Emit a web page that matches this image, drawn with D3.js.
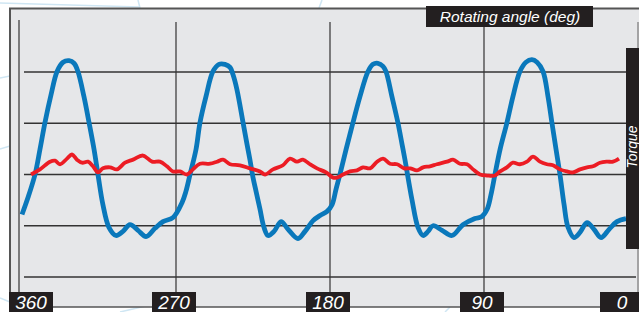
<!DOCTYPE html>
<html>
<head>
    <script src="https://d3js.org/d3.v7.min.js"></script>
</head>

<style>
body {
    margin: 0;
    background: #ffffff;
}
svg text {
    font-family: "Liberation Sans", Arial, sans-serif;
    font-style: italic;
}
</style>

<body>
<div id="chart"></div>

<script>
    // Rotating angle (deg) and torque (grid units)
    var blueAngle = [360, 356.5, 352.4, 349.5, 346.6, 343.0, 339.5, 336.0, 332.5, 329.6, 327.3, 323.8, 320.8, 317.9, 315.6,
        312.7, 309.2, 305.1, 301.0, 296.9, 292.2, 287.5, 282.3, 277.6, 271.7, 266.5, 264.2, 261.8, 258.3, 256.0, 252.5,
        248.4, 244.9, 241.4, 238.4, 236.7, 234.4, 230.8, 228.5, 226.8, 225.0, 223.2, 220.9, 218.6, 216.2, 212.7, 208.6,
        204.5, 198.7, 194.6, 189.9, 185.8, 181.7, 178.8, 176.5, 174.2, 170.6, 166.6, 162.5, 157.8, 154.9, 152.0, 149.0,
        147.3, 143.8, 140.3, 137.9, 136.2, 132.1, 128.6, 125.6, 122.7, 119.8, 114.5, 108.7, 102.3, 95.3, 91.2, 88.2,
        85.9, 83.6, 80.6, 76.6, 73.1, 69.0, 65.5, 62.0, 59.0, 55.5, 52.6, 50.3, 47.9, 45.6, 43.2, 40.9, 37.4, 33.9,
        29.8, 25.7, 21.6, 16.9, 12.3, 7.0];
    var blueTorque = [-0.78, -0.45, 0, 0.49, 1.01, 1.56, 2.01, 2.19, 2.22, 2.17, 2.01, 1.52, 1.01, 0.49, 0,
        -0.59, -1.03, -1.19, -1.11, -0.98, -1.09, -1.21, -1.05, -0.92, -0.84, -0.55, -0.33, 0, 0.49, 1.01, 1.52,
        2.01, 2.15, 2.15, 2.09, 1.95, 1.66, 1.01, 0.59, 0.29, -0.06, -0.33, -0.68, -1.03, -1.19, -1.11, -0.92,
        -1.07, -1.25, -1.11, -0.90, -0.80, -0.72, -0.59, -0.29, 0, 0.49, 1.01, 1.52, 2.01, 2.15, 2.17, 2.11,
        2.01, 1.52, 1.01, 0.59, 0.29, -0.49, -1.03, -1.19, -1.11, -1.0, -1.09, -1.19, -0.98, -0.86, -0.82, -0.68,
        -0.39, 0, 0.49, 1.01, 1.52, 2.01, 2.19, 2.24, 2.19, 2.01, 1.52, 1.01, 0.49, 0, -0.59, -1.03, -1.23, -1.13,
        -0.94, -1.07, -1.23, -1.07, -0.92, -0.86];

    var redAngle = [354.7, 349.5, 343.6, 340.7, 337.8, 333.7, 330.8, 327.9, 324.9, 321.4, 318.5, 315.6, 312.7, 308.6,
        304.5, 299.8, 295.1, 289.3, 284.0, 279.4, 275.3, 271.8, 267.7, 263.6, 260.1, 256.0, 250.1, 246.0, 242.5,
        238.4, 232.6, 226.8, 220.9, 218.0, 213.3, 207.5, 203.4, 199.3, 195.8, 191.7, 187.6, 182.3, 178.2, 175.9,
        172.4, 168.3, 164.2, 160.7, 156.6, 152.5, 149.0, 144.9, 140.8, 136.7, 133.2, 129.2, 125.6, 121.6, 117.5,
        111.6, 108.1, 104.0, 99.9, 96.4, 92.3, 88.2, 83.6, 80.6, 76.6, 73.1, 69.0, 64.9, 61.4, 57.3, 53.2, 49.7,
        45.6, 41.5, 38.0, 33.9, 29.8, 26.3, 22.2, 18.1, 14.6, 11.1];
    var redTorque = [0, 0.10, 0.25, 0.27, 0.20, 0.31, 0.39, 0.29, 0.23, 0.25, 0.16, 0.04, 0.12, 0.14,
        0.10, 0.23, 0.29, 0.37, 0.25, 0.25, 0.16, 0.06, 0.06, 0, 0.10, 0.21, 0.21, 0.25, 0.29,
        0.20, 0.18, 0.12, 0.06, 0, 0.10, 0.18, 0.31, 0.25, 0.29, 0.20, 0.12, 0.04, -0.06, -0.06,
        0, 0.06, 0.08, 0.14, 0.12, 0.25, 0.31, 0.21, 0.20, 0.12, 0.12, 0.08, 0.14, 0.16, 0.20,
        0.25, 0.29, 0.21, 0.20, 0.10, 0, -0.02, -0.02, 0.06, 0.14, 0.23, 0.20, 0.25, 0.35, 0.25, 0.20, 0.18,
        0.10, 0.06, 0.04, 0.10, 0.14, 0.16, 0.23, 0.25, 0.25, 0.31];

    var angleTicks = [360, 270, 180, 90, 0];
    var torqueTicks = [-2, -1, 0, 1, 2];

    var width = 639, height = 312;

    var svg = d3.select("#chart")
        .append("svg")
        .attr("width", width)
        .attr("height", height);

    var x = d3.scaleLinear().domain([360, 0]).range([22, 638]);
    var y = d3.scaleLinear().domain([-2, 2]).range([277, 72]);

    // faint background lines outside the panel
    var deco = [
        [[0, 3], [140, 7]], [[138, 0], [140, 8]], [[322, 0], [319, 8]], [[0, 78], [10, 76]],
        [[0, 149], [10, 146]], [[0, 298], [10, 302]], [[120, 312], [150, 305]], [[445, 312], [450, 307]]
    ];
    svg.selectAll(".deco")
        .data(deco)
        .enter().append("path")
        .attr("d", d3.line())
        .style("fill", "none")
        .style("stroke", "#cfe6f3")
        .style("stroke-width", 1.5);

    // panel
    svg.append("rect")
        .attr("x", 10).attr("y", 8)
        .attr("width", width - 10).attr("height", 299)
        .style("fill", "#e6e7e9");
    svg.append("path")
        .attr("d", "M10,307V8.5H" + width)
        .style("fill", "none")
        .style("stroke", "#555")
        .style("stroke-width", 2);
    svg.append("line")
        .attr("x1", 10).attr("x2", width)
        .attr("y1", 307).attr("y2", 307)
        .style("stroke", "#555")
        .style("stroke-width", 1.5);
    svg.append("line")
        .attr("x1", 19).attr("x2", 19)
        .attr("y1", 20).attr("y2", 307)
        .style("stroke", "#333")
        .style("stroke-width", 1.2);

    // grid
    svg.append("g")
        .selectAll("line")
        .data(torqueTicks)
        .enter().append("line")
        .attr("x1", 24).attr("x2", 636)
        .attr("y1", d => y(d)).attr("y2", d => y(d))
        .style("stroke", "#333")
        .style("stroke-width", 1.6);

    svg.append("g")
        .selectAll("line")
        .data(angleTicks.slice(1))
        .enter().append("line")
        .attr("x1", d => x(d)).attr("x2", d => x(d))
        .attr("y1", 22).attr("y2", 307)
        .style("stroke", d => d === 0 ? "#777" : "#333")
        .style("stroke-width", 1.2);

    // curves
    var line = d3.line()
        .x(d => x(d[0]))
        .y(d => y(d[1]))
        .curve(d3.curveCatmullRom.alpha(0.5));

    svg.append("path")
        .datum(d3.zip(blueAngle, blueTorque))
        .attr("d", line)
        .style("fill", "none")
        .style("stroke", "#0a78bb")
        .style("stroke-width", 4.8)
        .style("stroke-linejoin", "round");

    svg.append("path")
        .datum(d3.zip(redAngle, redTorque))
        .attr("d", line)
        .style("fill", "none")
        .style("stroke", "#ec1c24")
        .style("stroke-width", 3.8)
        .style("stroke-linejoin", "round");

    // axis title boxes
    svg.append("rect")
        .attr("x", 426).attr("y", 6).attr("width", 167).attr("height", 21)
        .style("fill", "#231f20");
    svg.append("text")
        .attr("x", 510).attr("y", 22)
        .attr("text-anchor", "middle")
        .attr("font-size", "15.5px")
        .attr("fill", "#fff")
        .text("Rotating angle (deg)");

    svg.append("rect")
        .attr("x", 626).attr("y", 48).attr("width", 20).attr("height", 201)
        .style("fill", "#231f20");
    svg.append("text")
        .attr("transform", "translate(632,147) rotate(-90)")
        .attr("text-anchor", "middle")
        .attr("dominant-baseline", "central")
        .attr("font-size", "14px")
        .attr("fill", "#fff")
        .text("Torque");

    // angle labels
    var labelX = d => d === 360 ? 31 : (d === 0 ? 622 : x(d) - 2);
    var labels = svg.append("g")
        .selectAll("g")
        .data(angleTicks)
        .enter().append("g")
        .attr("transform", d => "translate(" + labelX(d) + ",0)");
    labels.append("rect")
        .attr("x", -22).attr("y", 292).attr("width", 44).attr("height", 20)
        .style("fill", "#231f20");
    labels.append("text")
        .attr("y", 309)
        .attr("text-anchor", "middle")
        .attr("font-size", "19px")
        .attr("fill", "#fff")
        .text(d => d);
</script>
</body>
</html>
